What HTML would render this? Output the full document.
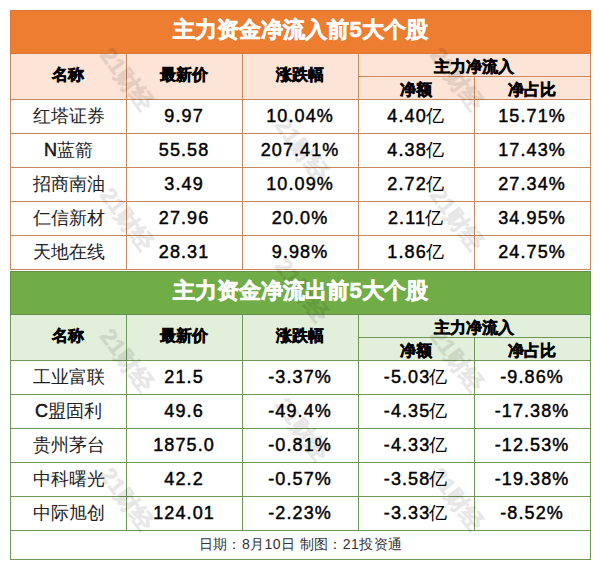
<!DOCTYPE html>
<html><head><meta charset="utf-8"><style>
html,body{margin:0;padding:0;background:#fff;}
body{width:600px;height:569px;position:relative;overflow:hidden;font-family:"Liberation Sans",sans-serif;}
div{box-sizing:border-box;}
.title,.hd,.nm,.num,.ft{position:absolute;text-align:center;white-space:nowrap;}
.title{color:#fff;font-weight:bold;font-size:22px;-webkit-text-stroke:0.6px #fff;}
.hd{color:#000;font-weight:bold;font-size:16px;-webkit-text-stroke:0.5px #000;}
.nm{color:#222;font-size:18px;}
.num{color:#000;font-size:18px;}
.num .d{letter-spacing:1.1px;margin-right:-1.1px;-webkit-text-stroke:0.45px #000;}
.nm .d{-webkit-text-stroke:0.45px #000;}
.ft{color:#333;font-size:14px;letter-spacing:0.4px;}
.wm{position:absolute;width:100px;height:28px;line-height:28px;text-align:center;font-size:23px;font-weight:bold;color:#000;-webkit-text-stroke:0.6px #000;opacity:0.09;transform:rotate(53deg);white-space:nowrap;}
</style></head><body>
<div style="position:absolute;left:10px;top:10px;width:581px;height:44px;background:#ED7D31;"></div><div style="position:absolute;left:10px;top:10px;width:581px;height:1px;background:#D5783A;"></div><div style="position:absolute;left:10px;top:53px;width:581px;height:1px;background:#D5783A;"></div><div style="position:absolute;left:10px;top:10px;width:1px;height:44px;background:#D5783A;"></div><div style="position:absolute;left:590px;top:10px;width:1px;height:44px;background:#D5783A;"></div><div style="position:absolute;left:10px;top:54px;width:581px;height:45px;background:#FCE4D6;"></div><div style="position:absolute;left:358px;top:76px;width:232px;height:1px;background:#C8875C;"></div><div style="position:absolute;left:10px;top:99px;width:581px;height:1px;background:#C8875C;"></div><div style="position:absolute;left:10px;top:133px;width:581px;height:1px;background:#C8875C;"></div><div style="position:absolute;left:10px;top:167px;width:581px;height:1px;background:#C8875C;"></div><div style="position:absolute;left:10px;top:201px;width:581px;height:1px;background:#C8875C;"></div><div style="position:absolute;left:10px;top:235px;width:581px;height:1px;background:#C8875C;"></div><div style="position:absolute;left:10px;top:269px;width:581px;height:1px;background:#C8875C;"></div><div style="position:absolute;left:10px;top:54px;width:1px;height:216px;background:#C8875C;"></div><div style="position:absolute;left:126px;top:54px;width:1px;height:215px;background:#C8875C;"></div><div style="position:absolute;left:242px;top:54px;width:1px;height:215px;background:#C8875C;"></div><div style="position:absolute;left:358px;top:54px;width:1px;height:215px;background:#C8875C;"></div><div style="position:absolute;left:474px;top:76px;width:1px;height:193px;background:#C8875C;"></div><div style="position:absolute;left:590px;top:54px;width:1px;height:216px;background:#C8875C;"></div><div style="position:absolute;left:10px;top:271px;width:581px;height:44px;background:#70AD47;"></div><div style="position:absolute;left:10px;top:271px;width:581px;height:1px;background:#66904F;"></div><div style="position:absolute;left:10px;top:314px;width:581px;height:1px;background:#66904F;"></div><div style="position:absolute;left:10px;top:271px;width:1px;height:44px;background:#66904F;"></div><div style="position:absolute;left:590px;top:271px;width:1px;height:44px;background:#66904F;"></div><div style="position:absolute;left:10px;top:315px;width:581px;height:45px;background:#E2EFDA;"></div><div style="position:absolute;left:358px;top:337px;width:232px;height:1px;background:#6E9858;"></div><div style="position:absolute;left:10px;top:360px;width:581px;height:1px;background:#6E9858;"></div><div style="position:absolute;left:10px;top:394px;width:581px;height:1px;background:#6E9858;"></div><div style="position:absolute;left:10px;top:428px;width:581px;height:1px;background:#6E9858;"></div><div style="position:absolute;left:10px;top:462px;width:581px;height:1px;background:#6E9858;"></div><div style="position:absolute;left:10px;top:496px;width:581px;height:1px;background:#6E9858;"></div><div style="position:absolute;left:10px;top:530px;width:581px;height:1px;background:#6E9858;"></div><div style="position:absolute;left:10px;top:315px;width:1px;height:216px;background:#6E9858;"></div><div style="position:absolute;left:126px;top:315px;width:1px;height:215px;background:#6E9858;"></div><div style="position:absolute;left:242px;top:315px;width:1px;height:215px;background:#6E9858;"></div><div style="position:absolute;left:358px;top:315px;width:1px;height:215px;background:#6E9858;"></div><div style="position:absolute;left:474px;top:337px;width:1px;height:193px;background:#6E9858;"></div><div style="position:absolute;left:590px;top:315px;width:1px;height:216px;background:#6E9858;"></div><div style="position:absolute;left:10px;top:559px;width:581px;height:1px;background:#6E9858;"></div><div style="position:absolute;left:10px;top:530px;width:1px;height:30px;background:#6E9858;"></div><div style="position:absolute;left:590px;top:530px;width:1px;height:30px;background:#6E9858;"></div>
<div class="wm" style="left:76.5px;top:65px;">21财经</div><div class="wm" style="left:76.5px;top:205px;">21财经</div><div class="wm" style="left:76.5px;top:346px;">21财经</div><div class="wm" style="left:76.5px;top:485px;">21财经</div><div class="wm" style="left:252px;top:135px;">21财经</div><div class="wm" style="left:252px;top:276px;">21财经</div><div class="wm" style="left:252px;top:415px;">21财经</div><div class="wm" style="left:406.5px;top:65px;">21财经</div><div class="wm" style="left:406.5px;top:205px;">21财经</div><div class="wm" style="left:406.5px;top:346px;">21财经</div><div class="wm" style="left:406.5px;top:485px;">21财经</div>
<div class="title" style="left:10px;top:8px;width:581px;height:44px;line-height:44px;">主力资金净流入前5大个股</div><div class="hd" style="left:10px;top:52px;width:116px;height:45px;line-height:45px;">名称</div><div class="hd" style="left:126px;top:52px;width:116px;height:45px;line-height:45px;">最新价</div><div class="hd" style="left:242px;top:52px;width:116px;height:45px;line-height:45px;">涨跌幅</div><div class="hd" style="left:358px;top:56px;width:232px;height:22px;line-height:22px;">主力净流入</div><div class="hd" style="left:358px;top:79px;width:116px;height:22px;line-height:22px;">净额</div><div class="hd" style="left:474px;top:79px;width:116px;height:22px;line-height:22px;">净占比</div><div class="nm" style="left:11px;top:100px;width:115px;height:33px;line-height:33px;">红塔证券</div><div class="num" style="left:126px;top:100px;width:115px;height:33px;line-height:33px;"><span class="d">9.97</span></div><div class="num" style="left:242px;top:100px;width:115px;height:33px;line-height:33px;"><span class="d">10.04%</span></div><div class="num" style="left:358px;top:100px;width:115px;height:33px;line-height:33px;"><span class="d">4.40</span>亿</div><div class="num" style="left:474px;top:100px;width:115px;height:33px;line-height:33px;"><span class="d">15.71%</span></div><div class="nm" style="left:11px;top:134px;width:115px;height:33px;line-height:33px;"><span class="d">N</span>蓝箭</div><div class="num" style="left:126px;top:134px;width:115px;height:33px;line-height:33px;"><span class="d">55.58</span></div><div class="num" style="left:242px;top:134px;width:115px;height:33px;line-height:33px;"><span class="d">207.41%</span></div><div class="num" style="left:358px;top:134px;width:115px;height:33px;line-height:33px;"><span class="d">4.38</span>亿</div><div class="num" style="left:474px;top:134px;width:115px;height:33px;line-height:33px;"><span class="d">17.43%</span></div><div class="nm" style="left:11px;top:168px;width:115px;height:33px;line-height:33px;">招商南油</div><div class="num" style="left:126px;top:168px;width:115px;height:33px;line-height:33px;"><span class="d">3.49</span></div><div class="num" style="left:242px;top:168px;width:115px;height:33px;line-height:33px;"><span class="d">10.09%</span></div><div class="num" style="left:358px;top:168px;width:115px;height:33px;line-height:33px;"><span class="d">2.72</span>亿</div><div class="num" style="left:474px;top:168px;width:115px;height:33px;line-height:33px;"><span class="d">27.34%</span></div><div class="nm" style="left:11px;top:202px;width:115px;height:33px;line-height:33px;">仁信新材</div><div class="num" style="left:126px;top:202px;width:115px;height:33px;line-height:33px;"><span class="d">27.96</span></div><div class="num" style="left:242px;top:202px;width:115px;height:33px;line-height:33px;"><span class="d">20.0%</span></div><div class="num" style="left:358px;top:202px;width:115px;height:33px;line-height:33px;"><span class="d">2.11</span>亿</div><div class="num" style="left:474px;top:202px;width:115px;height:33px;line-height:33px;"><span class="d">34.95%</span></div><div class="nm" style="left:11px;top:236px;width:115px;height:33px;line-height:33px;">天地在线</div><div class="num" style="left:126px;top:236px;width:115px;height:33px;line-height:33px;"><span class="d">28.31</span></div><div class="num" style="left:242px;top:236px;width:115px;height:33px;line-height:33px;"><span class="d">9.98%</span></div><div class="num" style="left:358px;top:236px;width:115px;height:33px;line-height:33px;"><span class="d">1.86</span>亿</div><div class="num" style="left:474px;top:236px;width:115px;height:33px;line-height:33px;"><span class="d">24.75%</span></div><div class="title" style="left:10px;top:269px;width:581px;height:44px;line-height:44px;">主力资金净流出前5大个股</div><div class="hd" style="left:10px;top:313px;width:116px;height:45px;line-height:45px;">名称</div><div class="hd" style="left:126px;top:313px;width:116px;height:45px;line-height:45px;">最新价</div><div class="hd" style="left:242px;top:313px;width:116px;height:45px;line-height:45px;">涨跌幅</div><div class="hd" style="left:358px;top:317px;width:232px;height:22px;line-height:22px;">主力净流入</div><div class="hd" style="left:358px;top:340px;width:116px;height:22px;line-height:22px;">净额</div><div class="hd" style="left:474px;top:340px;width:116px;height:22px;line-height:22px;">净占比</div><div class="nm" style="left:11px;top:361px;width:115px;height:33px;line-height:33px;">工业富联</div><div class="num" style="left:126px;top:361px;width:115px;height:33px;line-height:33px;"><span class="d">21.5</span></div><div class="num" style="left:242px;top:361px;width:115px;height:33px;line-height:33px;"><span class="d">-3.37%</span></div><div class="num" style="left:358px;top:361px;width:115px;height:33px;line-height:33px;"><span class="d">-5.03</span>亿</div><div class="num" style="left:474px;top:361px;width:115px;height:33px;line-height:33px;"><span class="d">-9.86%</span></div><div class="nm" style="left:11px;top:395px;width:115px;height:33px;line-height:33px;"><span class="d">C</span>盟固利</div><div class="num" style="left:126px;top:395px;width:115px;height:33px;line-height:33px;"><span class="d">49.6</span></div><div class="num" style="left:242px;top:395px;width:115px;height:33px;line-height:33px;"><span class="d">-49.4%</span></div><div class="num" style="left:358px;top:395px;width:115px;height:33px;line-height:33px;"><span class="d">-4.35</span>亿</div><div class="num" style="left:474px;top:395px;width:115px;height:33px;line-height:33px;"><span class="d">-17.38%</span></div><div class="nm" style="left:11px;top:429px;width:115px;height:33px;line-height:33px;">贵州茅台</div><div class="num" style="left:126px;top:429px;width:115px;height:33px;line-height:33px;"><span class="d">1875.0</span></div><div class="num" style="left:242px;top:429px;width:115px;height:33px;line-height:33px;"><span class="d">-0.81%</span></div><div class="num" style="left:358px;top:429px;width:115px;height:33px;line-height:33px;"><span class="d">-4.33</span>亿</div><div class="num" style="left:474px;top:429px;width:115px;height:33px;line-height:33px;"><span class="d">-12.53%</span></div><div class="nm" style="left:11px;top:463px;width:115px;height:33px;line-height:33px;">中科曙光</div><div class="num" style="left:126px;top:463px;width:115px;height:33px;line-height:33px;"><span class="d">42.2</span></div><div class="num" style="left:242px;top:463px;width:115px;height:33px;line-height:33px;"><span class="d">-0.57%</span></div><div class="num" style="left:358px;top:463px;width:115px;height:33px;line-height:33px;"><span class="d">-3.58</span>亿</div><div class="num" style="left:474px;top:463px;width:115px;height:33px;line-height:33px;"><span class="d">-19.38%</span></div><div class="nm" style="left:11px;top:497px;width:115px;height:33px;line-height:33px;">中际旭创</div><div class="num" style="left:126px;top:497px;width:115px;height:33px;line-height:33px;"><span class="d">124.01</span></div><div class="num" style="left:242px;top:497px;width:115px;height:33px;line-height:33px;"><span class="d">-2.23%</span></div><div class="num" style="left:358px;top:497px;width:115px;height:33px;line-height:33px;"><span class="d">-3.33</span>亿</div><div class="num" style="left:474px;top:497px;width:115px;height:33px;line-height:33px;"><span class="d">-8.52%</span></div><div class="ft" style="left:10px;top:530px;width:581px;height:28px;line-height:28px;">日期：8月10日 制图：21投资通</div>
</body></html>
